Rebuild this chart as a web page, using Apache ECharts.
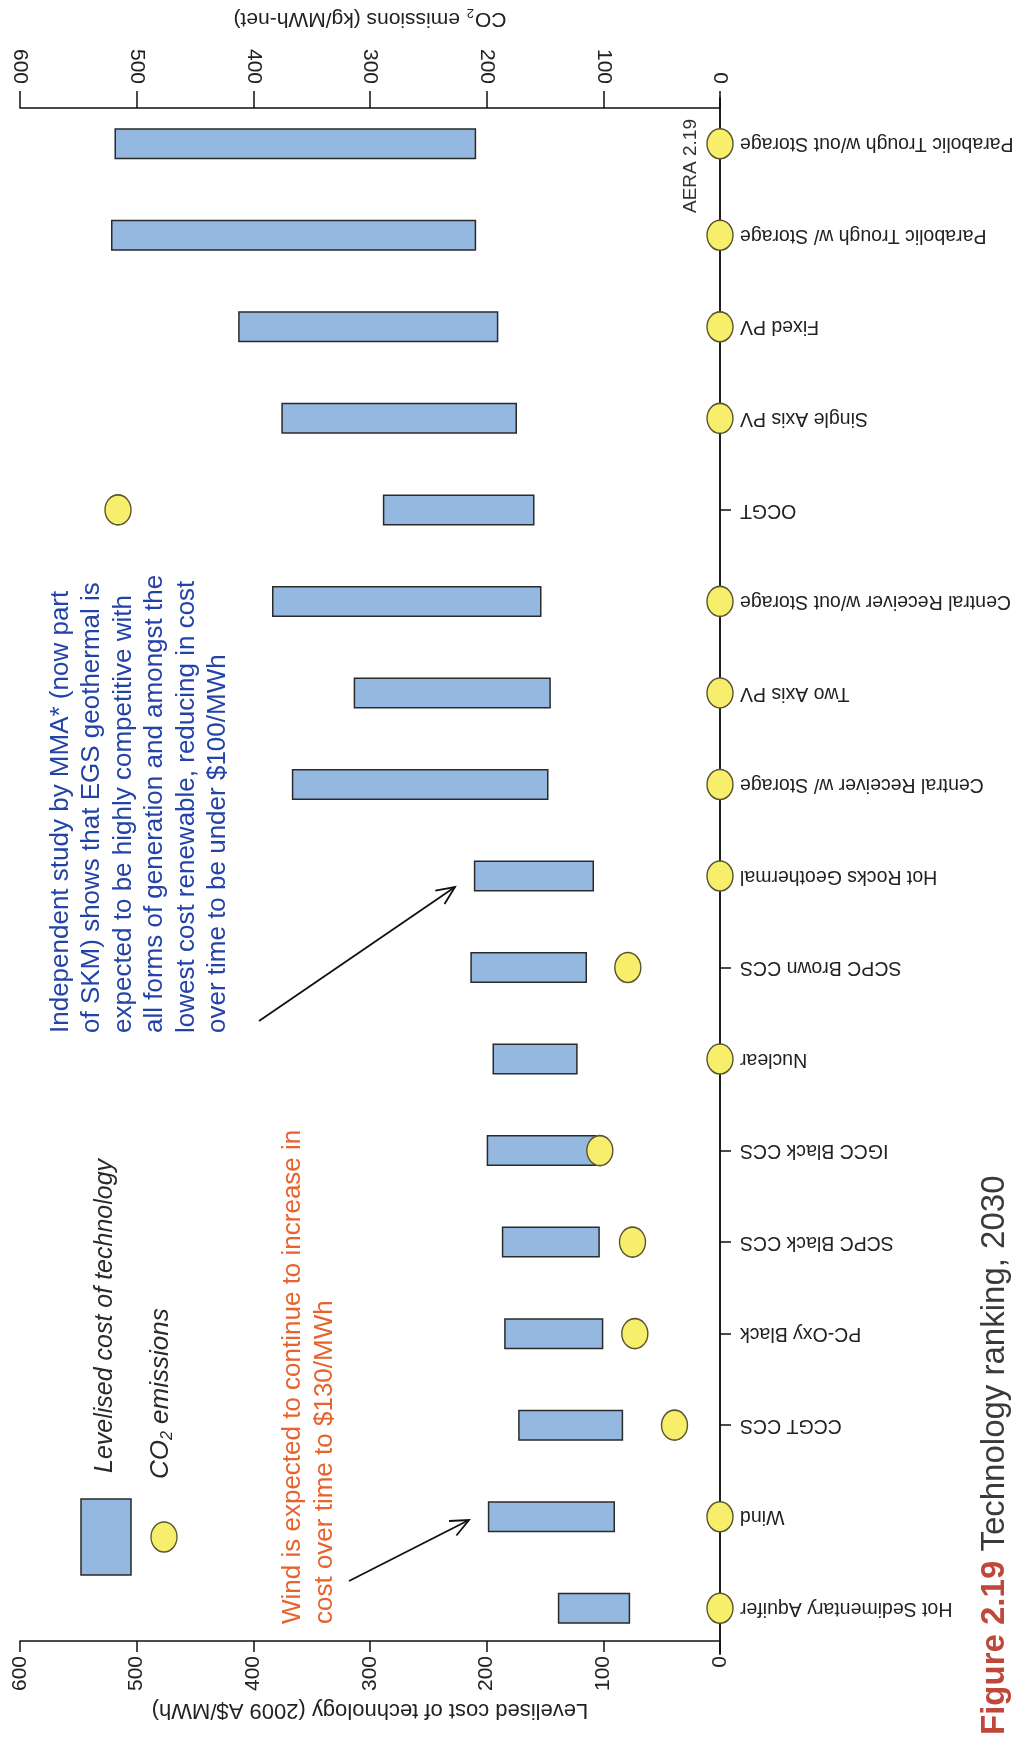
<!DOCTYPE html>
<html><head><meta charset="utf-8">
<script src="https://cdn.jsdelivr.net/npm/echarts@6/dist/echarts.min.js"></script>
<style>html,body{margin:0;padding:0;background:#fff}#c{width:1017px;height:1751px}</style>
</head><body><div id="c"></div>
<script>
// Categories in original left-to-right order (drawn bottom -> top)
const categories = ['Hot Sedimentary Aquifer','Wind','CCGT CCS','PC-Oxy Black','SCPC Black CCS','IGCC Black CCS','Nuclear','SCPC Brown CCS','Hot Rocks Geothermal','Central Receiver w/ Storage','Two Axis PV','Central Receiver w/out Storage','OCGT','Single Axis PV','Fixed PV','Parabolic Trough w/ Storage','Parabolic Trough w/out Storage'];
// Levelised cost range (2009 A$/MWh)
const costLow  = [77, 90, 83, 100, 103, 106, 122, 114, 108, 147, 145, 153, 159, 174, 190, 209, 209];
const costHigh = [139, 199, 173, 185, 187, 200, 195, 214, 211, 367, 314, 384, 289, 376, 413, 522, 519];
// CO2 emissions (kg/MWh-net)
const co2 = [0, 0, 39, 73, 75, 103, 0, 79, 0, 0, 0, 0, 516, 0, 0, 0, 0];
const axisMin = 0, axisMax = 600, axisStep = 100;

const FONT = '"Liberation Sans", Arial, Helvetica, sans-serif';
const chart = echarts.init(document.getElementById('c'));

function arrow(x1, y1, x2, y2) {
  const a = Math.atan2(y2 - y1, x2 - x1), L = 20, s = 0.42;
  return [
    {type: 'line', shape: {x1, y1, x2, y2}, style: {stroke: '#111', lineWidth: 1.8}},
    {type: 'polyline', shape: {points: [
      [x2 - L * Math.cos(a - s), y2 - L * Math.sin(a - s)], [x2, y2],
      [x2 - L * Math.cos(a + s), y2 - L * Math.sin(a + s)]]},
      style: {stroke: '#111', lineWidth: 1.8, fill: null}}
  ];
}

const valueAxisBase = {
  type: 'value', min: axisMin, max: axisMax, interval: axisStep, inverse: true,
  splitLine: {show: false},
  axisLine: {show: true, lineStyle: {color: '#111', width: 1.5}},
  nameLocation: 'middle', nameRotate: 180,
};

const option = {
  backgroundColor: '#fff',
  animation: false,
  grid: {left: 20, right: 297, top: 98, bottom: 97},
  xAxis: [
    Object.assign({}, valueAxisBase, {
      position: 'bottom', offset: -13,
      axisTick: {show: true, length: 11, lineStyle: {color: '#111', width: 1.5}},
      axisLabel: {rotate: 90, margin: 15, fontSize: 21, color: '#222', fontFamily: FONT},
      name: 'Levelised cost of technology (2009 A$/MWh)', nameGap: 45,
      nameTextStyle: {fontSize: 22, color: '#222', fontFamily: FONT}
    }),
    Object.assign({}, valueAxisBase, {
      position: 'top', offset: -10,
      axisTick: {show: true, length: 17, lineStyle: {color: '#111', width: 1.5}},
      axisLabel: {rotate: 90, margin: 24, fontSize: 21, color: '#222', fontFamily: FONT},
      name: '{a|CO}{s|2}{a| emissions (kg/MWh-net)}', nameGap: 76,
      nameTextStyle: {fontSize: 21, color: '#222', fontFamily: FONT,
        rich: {a: {fontSize: 21, color: '#222', fontFamily: FONT, lineHeight: 26},
               s: {fontSize: 13, color: '#222', fontFamily: FONT, lineHeight: 26, verticalAlign: 'bottom', padding: [0, 1, 0, 1]}}}
    })
  ],
  yAxis: [
    {
      type: 'category', data: categories, position: 'right',
      axisLine: {show: true, lineStyle: {color: '#111', width: 1.5}},
      axisTick: {show: true, length: 11, alignWithLabel: true, lineStyle: {color: '#111', width: 1.5}},
      axisLabel: {rotate: 180, margin: 20, fontSize: 19.5, color: '#222', fontFamily: FONT, interval: 0},
      splitLine: {show: false}
    },
    {
      type: 'category', data: categories, position: 'left',
      axisLine: {show: true, lineStyle: {color: '#111', width: 1.5}},
      axisTick: {show: false}, axisLabel: {show: false}, splitLine: {show: false}
    }
  ],
  series: [
    {
      type: 'bar', stack: 'cost', xAxisIndex: 0, yAxisIndex: 0, barWidth: 31, silent: true,
      itemStyle: {color: 'rgba(0,0,0,0)'}, data: costLow
    },
    {
      type: 'bar', stack: 'cost', xAxisIndex: 0, yAxisIndex: 0, barWidth: 31,
      itemStyle: {color: '#95b8e0', borderColor: '#2a2a2a', borderWidth: 1.5},
      data: costHigh.map((h, i) => h - costLow[i])
    },
    {
      type: 'scatter', xAxisIndex: 1, yAxisIndex: 0, z: 5,
      symbol: 'circle', symbolSize: [26, 30],
      itemStyle: {color: '#f7ee6c', borderColor: '#5a5530', borderWidth: 1.5, opacity: 1},
      data: co2.map((v, i) => [v, i])
    }
  ],
  graphic: [
    // legend
    {type: 'rect', shape: {x: 81, y: 1499, width: 50, height: 76},
     style: {fill: '#95b8e0', stroke: '#2a2a2a', lineWidth: 1.5}},
    {type: 'circle', x: 164, y: 1537, scaleX: 13 / 15, shape: {cx: 0, cy: 0, r: 15},
     style: {fill: '#f7ee6c', stroke: '#5a5530', lineWidth: 1.5}},
    {type: 'text', x: 93, y: 1473, rotation: Math.PI / 2,
     style: {text: 'Levelised cost of technology', fill: '#2a2a2a', font: 'italic 25px ' + FONT, align: 'left', verticalAlign: 'top'}},
    {type: 'text', x: 146, y: 1479, rotation: Math.PI / 2,
     style: {text: '{a|CO}{s|2}{a| emissions}', fill: '#2a2a2a', align: 'left', verticalAlign: 'top',
       rich: {a: {font: 'italic 26px ' + FONT, fill: '#2a2a2a', lineHeight: 30},
              s: {font: 'italic 16px ' + FONT, fill: '#2a2a2a', lineHeight: 30, verticalAlign: 'bottom'}}}},
    // blue annotation
    {type: 'text', x: 45, y: 1033, rotation: Math.PI / 2,
     style: {text: 'Independent study by MMA* (now part\nof SKM) shows that EGS geothermal is\nexpected to be highly competitive with\nall forms of generation and amongst the\nlowest cost renewable, reducing in cost\nover time to be under $100/MWh',
       fill: '#2343a8', font: '26px ' + FONT, lineHeight: 31.5, align: 'left', verticalAlign: 'top'}},
    // orange annotation
    {type: 'text', x: 277, y: 1624, rotation: Math.PI / 2,
     style: {text: 'Wind is expected to continue to increase in\ncost over time to $130/MWh',
       fill: '#e8622c', font: '26px ' + FONT, lineHeight: 32, align: 'left', verticalAlign: 'top'}},
    // AERA label
    {type: 'text', x: 681, y: 213, rotation: Math.PI / 2,
     style: {text: 'AERA 2.19', fill: '#333', font: '19px ' + FONT, align: 'left', verticalAlign: 'top'}},
    // caption
    {type: 'text', x: 976, y: 1735, rotation: Math.PI / 2,
     style: {text: '{b|Figure 2.19}{n| Technology ranking, 2030}', align: 'left', verticalAlign: 'top',
       rich: {b: {font: 'bold 33px ' + FONT, fill: '#c0483a', lineHeight: 38},
              n: {font: '33px ' + FONT, fill: '#3a3a3a', lineHeight: 38}}}}
  ].concat(arrow(259, 1021, 455, 887), arrow(349, 1581, 469, 1520))
};
chart.setOption(option);
</script>
</body></html>
